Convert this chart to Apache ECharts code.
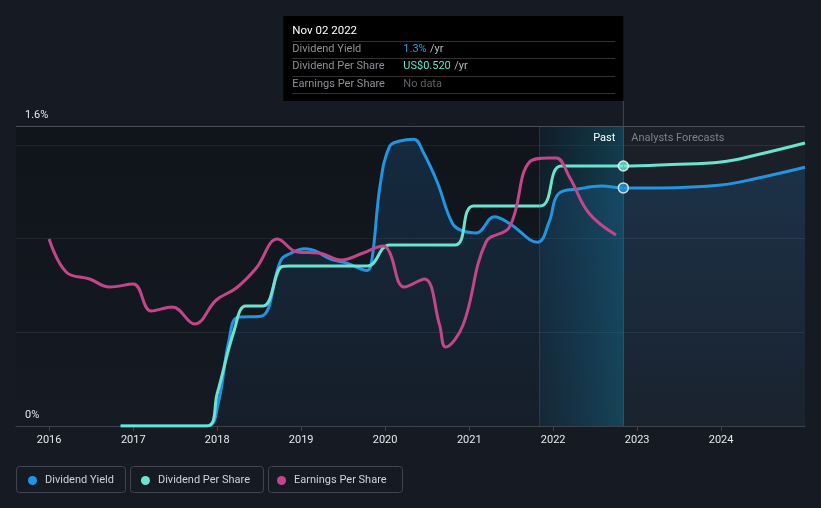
<!DOCTYPE html>
<html>
<head>
<meta charset="utf-8">
<script src="https://cdn.jsdelivr.net/npm/echarts@6/dist/echarts.min.js"></script>
<style>
html,body{margin:0;padding:0;background:#151a23;}
#c{width:821px;height:508px;}
</style>
</head>
<body>
<div id="c"></div>
<script>
// ---- data ----
const yieldDates = ['2016-11-07','2017-11-20','2018-01-05','2018-02-20','2018-04-01','2018-07-10','2018-10-05','2018-11-15','2019-01-15','2019-03-01','2019-05-10','2019-07-20','2019-10-15','2019-11-05','2019-12-10','2020-01-20','2020-03-05','2020-05-05','2020-06-15','2020-08-15','2020-10-20','2020-12-05','2021-02-01','2021-04-20','2021-06-25','2021-10-25','2021-12-15','2022-01-25','2022-04-25','2022-07-30','2022-11-02','2023-04-15','2024-01-01','2024-06-01','2024-12-31'];
const yieldValues = [0,0,0.12,0.45,0.58,0.585,0.885,0.92,0.945,0.935,0.89,0.868,0.83,0.89,1.28,1.49,1.52,1.53,1.46,1.30,1.08,1.04,1.03,1.116,1.08,0.98,1.09,1.24,1.265,1.28,1.27,1.27,1.285,1.32,1.38];

const dpsDates = ['2016-11-07','2017-11-17','2018-01-01','2018-03-15','2018-05-05','2018-07-20','2018-10-10','2018-11-10','2019-10-15','2020-01-20','2020-10-30','2021-01-20','2021-11-05','2022-02-05','2022-11-02','2023-06-01','2024-01-01','2024-06-01','2024-12-31'];
const dpsValues = [0,0,0.065,0.19,0.24,0.24,0.319,0.32,0.32,0.362,0.362,0.44,0.44,0.52,0.52,0.523,0.528,0.542,0.566];

const epsDates = ['2016-01-01','2016-03-15','2016-06-25','2016-09-20','2017-01-01','2017-03-20','2017-06-20','2017-09-25','2017-12-28','2018-03-25','2018-06-20','2018-09-20','2018-12-15','2019-03-20','2019-06-25','2019-09-28','2019-12-25','2020-01-20','2020-03-25','2020-06-20','2020-08-25','2020-09-20','2020-12-05','2021-03-15','2021-06-25','2021-09-20','2021-12-15','2022-01-15','2022-03-15','2022-06-05','2022-10-01'];
const epsValues = [1.87,1.54,1.47,1.39,1.42,1.15,1.19,1.02,1.26,1.38,1.58,1.87,1.74,1.73,1.66,1.73,1.80,1.74,1.39,1.47,1.01,0.79,1.01,1.84,1.99,2.64,2.68,2.68,2.48,2.13,1.91];

const yieldTicks = [0,1.6];
const pastStart = '2021-11-01';
const todayDate = '2022-11-02';
const tooltipTitle = 'Nov 02 2022';
const tooltipYield = '1.3%';
const tooltipDps = 'US$0.520';

const C_YIELD = '#2394df', C_DPS = '#6ce3cf', C_EPS = '#c3468a';
const FONT = 'Roboto, "Noto Sans", sans-serif';
const DAY = 86400000;

const zip = (d, v) => d.map((x, i) => [x, v[i]]);
const ts = s => new Date(s + 'T00:00:00').getTime();

const chart = echarts.init(document.getElementById('c'), null, {renderer: 'canvas'});

const option = {
  backgroundColor: '#151a23',
  animation: false,
  textStyle: {fontFamily: FONT},
  grid: {left: 16, right: 16, top: 126, bottom: 82, containLabel: false},
  xAxis: {
    type: 'time',
    min: '2015-08-10',
    max: '2024-12-31',
    minInterval: 365 * DAY, maxInterval: 366 * DAY,
    axisLine: {show: true, lineStyle: {color: '#3d424b', width: 1}},
    axisTick: {show: true, length: 5, lineStyle: {color: '#3d424b'}},
    axisLabel: {color: '#e6e8ec', fontSize: 11, margin: 9, fontFamily: FONT, formatter: '{yyyy}', showMinLabel: false},
    splitLine: {show: false}
  },
  yAxis: [
    { // yield axis
      type: 'value', min: 0, max: 1.6, position: 'left',
      axisLine: {show: false}, axisTick: {show: false}, splitLine: {show: false},
      axisLabel: {
        inside: true, customValues: yieldTicks, color: '#e6e8ec', fontSize: 11, margin: 9,
        verticalAlign: 'bottom', padding: [0, 0, 5, 0], formatter: v => v + '%'
      }
    },
    { // gridline axis
      type: 'value', min: 0, max: 3.2, interval: 1, position: 'right',
      axisLine: {show: false}, axisTick: {show: false}, axisLabel: {show: false},
      splitLine: {show: true, lineStyle: {color: '#272c35', width: 1}}
    },
    {type: 'value', min: 0, max: 0.6, show: false},
    {type: 'value', min: 0, max: 3, show: false}
  ],
  legend: {
    left: 28, top: 475, padding: 0, icon: 'circle', itemWidth: 9, itemHeight: 9, itemGap: 27,
    textStyle: {color: '#cfd3da', fontSize: 11, fontFamily: FONT, padding: [0, 0, 0, 3]},
    data: [
      {name: 'Dividend Yield'},
      {name: 'Dividend Per Share', textStyle: {padding: [0, 3, 0, 3]}},
      {name: 'Earnings Per Share'}
    ],
    selectedMode: false
  },
  series: [
    {
      name: 'Dividend Yield', type: 'line', yAxisIndex: 0, z: 3,
      data: zip(yieldDates, yieldValues),
      smooth: 0.4, showSymbol: false,
      lineStyle: {color: C_YIELD, width: 3},
      itemStyle: {color: C_YIELD},
      areaStyle: {
        color: new echarts.graphic.LinearGradient(0, 0, 0, 1, [
          {offset: 0, color: 'rgba(35,120,190,0.32)'},
          {offset: 1, color: 'rgba(35,120,190,0.06)'}
        ])
      },
      markArea: {
        silent: true,
        data: [
          [{xAxis: '2015-08-10', itemStyle: {color: new echarts.graphic.LinearGradient(0, 0, 0, 1, [
              {offset: 0, color: 'rgba(0,0,0,0.25)'}, {offset: 1, color: 'rgba(0,0,0,0.0)'}])}},
           {xAxis: todayDate}],
          [{xAxis: pastStart, itemStyle: {color: new echarts.graphic.LinearGradient(0, 0, 1, 0, [
              {offset: 0, color: 'rgba(20,120,160,0.10)'}, {offset: 1, color: 'rgba(20,150,190,0.32)'}])}},
           {xAxis: todayDate}],
          [{xAxis: todayDate, itemStyle: {color: 'rgba(255,255,255,0.025)'}},
           {xAxis: '2024-12-31'}]
        ]
      },
      markLine: {
        silent: true, symbol: 'none', label: {show: false},
        data: [
          {yAxis: 1.6, lineStyle: {color: '#4a4f59', width: 1, type: 'solid'}},
          {xAxis: todayDate, lineStyle: {color: '#35505c', width: 1, type: 'solid'}},
          {xAxis: pastStart, lineStyle: {color: 'rgba(60,110,130,0.35)', width: 1, type: 'solid'}}
        ]
      }
    },
    {
      name: 'Dividend Per Share', type: 'line', yAxisIndex: 2, z: 4,
      data: zip(dpsDates, dpsValues),
      smooth: 0.4, showSymbol: false,
      lineStyle: {color: C_DPS, width: 3},
      itemStyle: {color: C_DPS}
    },
    {
      name: 'Earnings Per Share', type: 'line', yAxisIndex: 3, z: 5,
      data: zip(epsDates, epsValues),
      smooth: 0.4, showSymbol: false,
      lineStyle: {color: C_EPS, width: 3},
      itemStyle: {color: C_EPS}
    },
    {
      name: 'yieldNow', type: 'scatter', yAxisIndex: 0, z: 10,
      data: [[todayDate, yieldValues[yieldDates.indexOf(todayDate)]]],
      symbolSize: 10, itemStyle: {color: C_YIELD, borderColor: '#ffffff', borderWidth: 1.5}
    },
    {
      name: 'dpsNow', type: 'scatter', yAxisIndex: 2, z: 10,
      data: [[todayDate, dpsValues[dpsDates.indexOf(todayDate)]]],
      symbolSize: 10, itemStyle: {color: C_DPS, borderColor: '#ffffff', borderWidth: 1.5}
    }
  ]
};
chart.setOption(option);

// decorations placed relative to the "today" position
const px = chart.convertToPixel({xAxisIndex: 0}, ts(todayDate));
const topY = chart.convertToPixel({yAxisIndex: 0}, 1.6);
const boxW = 340, boxH = 85, boxTop = 16, boxLeft = px - boxW;
const rowY = [49, 66, 84];
const sepY = [41, 58, 76, 93];
chart.setOption({
  graphic: [
    {type: 'line', shape: {x1: px, y1: boxTop + boxH, x2: px, y2: topY}, style: {stroke: '#35505c', lineWidth: 1}, z: 50},
    {type: 'rect', shape: {x: boxLeft, y: boxTop, width: boxW, height: boxH}, style: {fill: '#000000'}, z: 50},
    {type: 'text', x: boxLeft + 9, y: 31, style: {text: tooltipTitle, fill: '#ffffff', font: '11.5px ' + FONT, verticalAlign: 'middle'}, z: 51},
    ...sepY.map(y => ({type: 'line', shape: {x1: boxLeft + 9, y1: y + 0.5, x2: px - 8, y2: y + 0.5}, style: {stroke: '#333333', lineWidth: 1}, z: 51})),
    {type: 'text', x: boxLeft + 9, y: rowY[0], style: {text: 'Dividend Yield', fill: '#8d9096', font: '11px ' + FONT, verticalAlign: 'middle'}, z: 51},
    {type: 'text', x: boxLeft + 9, y: rowY[1], style: {text: 'Dividend Per Share', fill: '#8d9096', font: '11px ' + FONT, verticalAlign: 'middle'}, z: 51},
    {type: 'text', x: boxLeft + 9, y: rowY[2], style: {text: 'Earnings Per Share', fill: '#8d9096', font: '11px ' + FONT, verticalAlign: 'middle'}, z: 51},
    {type: 'text', x: boxLeft + 120, y: rowY[0], style: {text: '{a|' + tooltipYield + '} {b|/yr}', verticalAlign: 'middle',
      rich: {a: {fill: '#2f9be6', font: '11px ' + FONT}, b: {fill: '#b8bbc0', font: '11px ' + FONT}}}, z: 51},
    {type: 'text', x: boxLeft + 120, y: rowY[1], style: {text: '{a|' + tooltipDps + '} {b|/yr}', verticalAlign: 'middle',
      rich: {a: {fill: C_DPS, font: '11px ' + FONT}, b: {fill: '#b8bbc0', font: '11px ' + FONT}}}, z: 51},
    {type: 'text', x: boxLeft + 120, y: rowY[2], style: {text: 'No data', fill: '#5f6267', font: '11px ' + FONT, verticalAlign: 'middle'}, z: 51},
    {type: 'text', x: px - 8, y: 138, style: {text: 'Past', fill: '#ffffff', font: '11px ' + FONT, align: 'right', verticalAlign: 'middle'}, z: 51},
    {type: 'text', x: px + 8, y: 138, style: {text: 'Analysts Forecasts', fill: '#7d828a', font: '11px ' + FONT, align: 'left', verticalAlign: 'middle'}, z: 51},
    {type: 'rect', shape: {x: 16.5, y: 466.5, width: 109, height: 26, r: 3}, style: {fill: 'none', stroke: '#40454f', lineWidth: 1}, z: 1},
    {type: 'rect', shape: {x: 130.5, y: 466.5, width: 133, height: 26, r: 3}, style: {fill: 'none', stroke: '#40454f', lineWidth: 1}, z: 1},
    {type: 'rect', shape: {x: 268.5, y: 466.5, width: 134, height: 26, r: 3}, style: {fill: 'none', stroke: '#40454f', lineWidth: 1}, z: 1}
  ]
});
</script>
</body>
</html>
